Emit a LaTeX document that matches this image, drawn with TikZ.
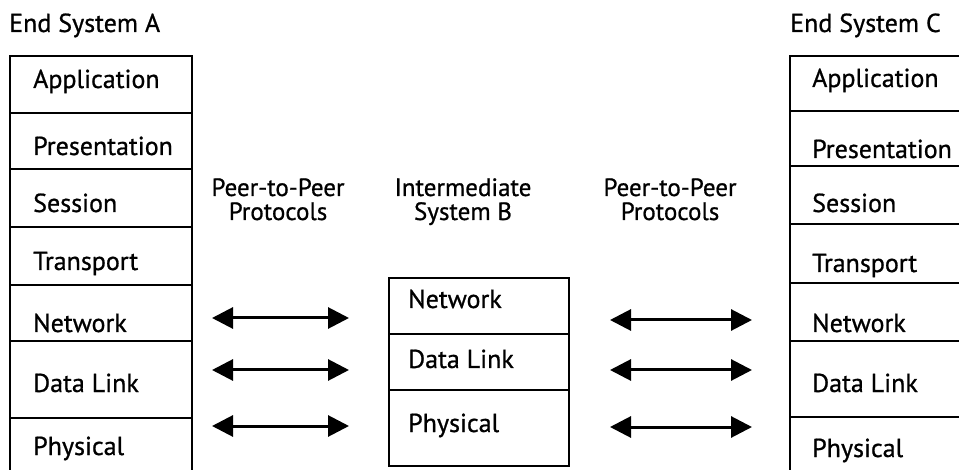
\documentclass[tikz,border=0pt]{standalone}
\usepackage{fontspec}
\setmainfont[FakeBold=0.8]{PT Sans}
\usetikzlibrary{arrows.meta}
\tikzset{
  layer/.style={draw, line width=1.8pt, rectangle, inner sep=0pt, anchor=north west},
  colA/.style={layer, minimum width=182pt},
  colB/.style={layer, minimum width=180pt},
  colC/.style={layer, minimum width=200pt},
  txt/.style={anchor=base west, inner sep=0pt, font=\fontsize{26}{28}\selectfont},
  head/.style={anchor=base, inner sep=0pt, align=center, font=\fontsize{25}{24}\selectfont},
  peer/.style={line width=3pt, {Triangle[length=21pt,width=21pt]}-{Triangle[length=21pt,width=21pt]}}
}
\begin{document}
\begin{tikzpicture}[x=1pt,y=-1pt]
\useasboundingbox (0,0) rectangle (959,470);
\clip (0,0) rectangle (959,470);

% End System A
\node[txt] (titleA) at (9,32) {End System A};
\node[colA, minimum height=57pt] (aApp) at (9,55) {};
\node[colA, minimum height=56pt] (aPre) at (9,112) {};
\node[colA, minimum height=58pt] (aSes) at (9,168) {};
\node[colA, minimum height=58pt] (aTra) at (9,226) {};
\node[colA, minimum height=56pt] (aNet) at (9,284) {};
\node[colA, minimum height=77pt] (aDat) at (9,340) {};
\node[colA, minimum height=70pt] (aPhy) at (9,417) {};
\node[txt] (tAApp) at (33,88) {Application};
\node[txt] (tAPre) at (33,155) {Presentation};
\node[txt] (tASes) at (33,212) {Session};
\node[txt] (tATra) at (33,270) {Transport};
\node[txt] (tANet) at (33,332) {Network};
\node[txt] (tADat) at (33,392) {Data Link};
\node[txt] (tAPhy) at (33,455) {Physical};

% Intermediate System B
\node[head] (titleB) at (463,220) {Intermediate\\System B};
\node[colB, minimum height=56pt] (bNet) at (388,277) {};
\node[colB, minimum height=56pt] (bDat) at (388,333) {};
\node[colB, minimum height=76pt] (bPhy) at (388,389) {};
\node[txt] (tBNet) at (408,308) {Network};
\node[txt] (tBDat) at (408,368) {Data Link};
\node[txt] (tBPhy) at (408,432) {Physical};

% End System C (runs past the right edge)
\node[txt] (titleC) at (790,32) {End System C};
\node[colC, minimum height=55pt] (cApp) at (789,55) {};
\node[colC, minimum height=55pt] (cPre) at (789,110) {};
\node[colC, minimum height=58pt] (cSes) at (789,165) {};
\node[colC, minimum height=59pt] (cTra) at (789,223) {};
\node[colC, minimum height=58pt] (cNet) at (789,282) {};
\node[colC, minimum height=76pt] (cDat) at (789,340) {};
\node[colC, minimum height=70pt] (cPhy) at (789,416) {};
\node[txt] (tCApp) at (812,87) {Application};
\node[txt] (tCPre) at (812,158) {Presentation};
\node[txt] (tCSes) at (812,212) {Session};
\node[txt] (tCTra) at (812,272) {Transport};
\node[txt] (tCNet) at (812,332) {Network};
\node[txt] (tCDat) at (812,392) {Data Link};
\node[txt] (tCPhy) at (812,457) {Physical};

% Peer-to-peer protocol labels
\node[head] (peerL) at (278,220) {Peer-to-Peer\\Protocols};
\node[head] (peerR) at (670,220) {Peer-to-Peer\\Protocols};

% Arrow end points
\coordinate (l1a) at (212,318); \coordinate (l1b) at (349,318);
\coordinate (l2a) at (212,370); \coordinate (l2b) at (349,370);
\coordinate (l3a) at (212,426); \coordinate (l3b) at (349,426);
\coordinate (r1a) at (610,320); \coordinate (r1b) at (752,320);
\coordinate (r2a) at (610,370); \coordinate (r2b) at (752,370);
\coordinate (r3a) at (610,427); \coordinate (r3b) at (752,427);
\draw[peer] (l1a) -- (l1b);
\draw[peer] (l2a) -- (l2b);
\draw[peer] (l3a) -- (l3b);
\draw[peer] (r1a) -- (r1b);
\draw[peer] (r2a) -- (r2b);
\draw[peer] (r3a) -- (r3b);
\end{tikzpicture}
\end{document}
